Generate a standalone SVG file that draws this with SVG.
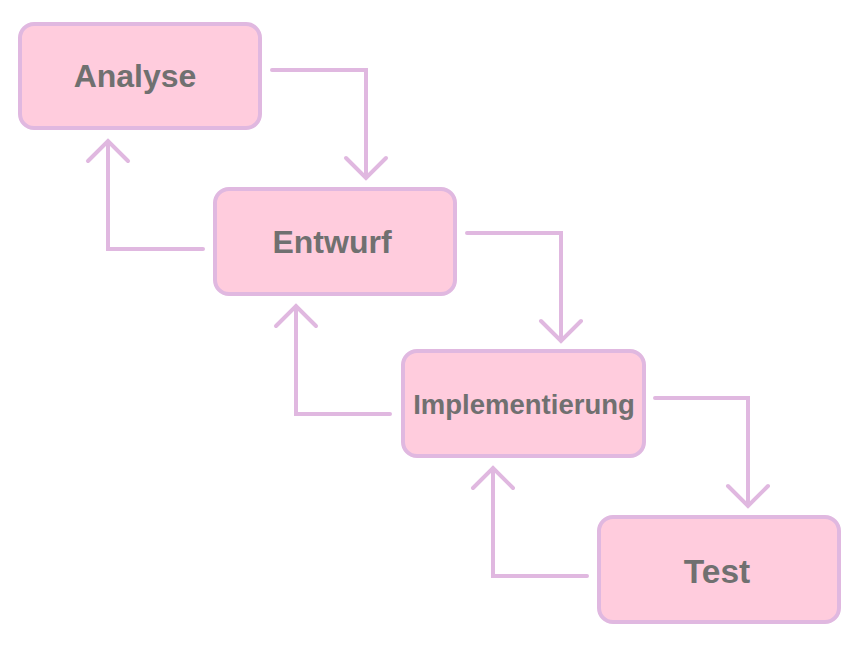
<svg xmlns="http://www.w3.org/2000/svg" width="863" height="647" viewBox="0 0 863 647">
<style>
.box{fill:#FFCCDD;stroke:#E0B8E0;stroke-width:4}
.lbl{font-family:"Liberation Sans",Arial,sans-serif;font-weight:bold;fill:#707070;text-anchor:middle}
.con{fill:none;stroke:#E0B8E0;stroke-width:4;stroke-linecap:round;stroke-linejoin:miter}
</style>
<rect width="863" height="647" fill="#FFFFFF"/>
<g id="connectors">
<path class="con" d="M272,70 H366 V178 M346,158 L366,178 L386,158"/>
<path class="con" d="M203,249 H108 V141 M88,161 L108,141 L128,161"/>
<path class="con" d="M467,233 H561 V341 M541,321 L561,341 L581,321"/>
<path class="con" d="M390,414 H296 V306 M276,326 L296,306 L316,326"/>
<path class="con" d="M655,398 H748 V506 M728,486 L748,506 L768,486"/>
<path class="con" d="M587,576 H493 V468 M473,488 L493,468 L513,488"/>
</g>
<g id="analyse">
<rect class="box" x="20" y="24" width="240" height="104" rx="14"/>
<text class="lbl" x="135" y="87" font-size="32">Analyse</text>
</g>
<g id="entwurf">
<rect class="box" x="215" y="189" width="240" height="105" rx="14"/>
<text class="lbl" x="332" y="253" font-size="32">Entwurf</text>
</g>
<g id="implementierung">
<rect class="box" x="403" y="351" width="241" height="105" rx="14"/>
<text class="lbl" x="524" y="414" font-size="27.5">Implementierung</text>
</g>
<g id="test">
<rect class="box" x="599" y="517" width="240" height="105" rx="14"/>
<text class="lbl" x="717" y="583" font-size="33.5">Test</text>
</g>
</svg>
